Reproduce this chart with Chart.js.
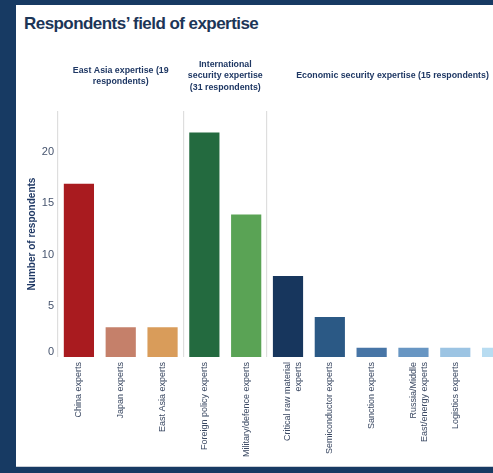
<!DOCTYPE html>
<html>
<head>
<meta charset="utf-8">
<script src="https://cdn.jsdelivr.net/npm/chart.js@4.4.1/dist/chart.umd.min.js"></script>
<style>
  html, body { margin:0; padding:0; width:493px; height:473px; overflow:hidden; background:#173a63; }
  #panel { position:absolute; left:16px; top:5px; width:600px; height:461px; background:#ffffff; border-bottom:1px solid #c9ced6; }
  #title { position:absolute; left:24px; top:14px; font-family:"Liberation Sans", Arial, sans-serif; font-weight:bold; font-size:17px; line-height:20px; letter-spacing:-0.55px; color:#1c3557; white-space:nowrap; }
  #wrap { position:absolute; left:0; top:0; width:540px; height:473px; }
</style>
</head>
<body>
<div id="panel"></div>
<div id="title">Respondents’ field of expertise</div>
<div id="wrap"><canvas id="c" width="540" height="473"></canvas></div>
<script>
const categories = ['China experts', 'Japan experts', 'East Asia experts', 'Foreign policy experts', 'Military/defence experts',
  ['Critical raw material', 'experts'], 'Semiconductor experts', 'Sanction experts', ['Russia/Middle', 'East/energy experts'],
  'Logistics experts', 'Economic experts'];
const respondents = [17, 3, 3, 22, 14, 8, 4, 1, 1, 1, 1];
const barColors = ['#a91b1f', '#c5806a', '#d99c5a', '#236a3f', '#5aa355', '#17365d', '#2b5985', '#4775a6', '#6896c3', '#9cc4e3', '#b8dcf1'];
const yTicks = [0, 5, 10, 15, 20];
const sectionTitles = [['East Asia expertise (19', 'respondents)'], ['International', 'security expertise', '(31 respondents)'], ['Economic security expertise (15 respondents)']];
const sectionStarts = [0, 3, 5];
const sectionEnds = [2, 4, 10];

const navy = '#1f3864';
const tickGray = '#46546e';
const FONT = '"Liberation Sans", Arial, sans-serif';

const overlay = {
  id: 'overlay',
  afterDraw(chart) {
    const ctx = chart.ctx;
    const x = chart.scales.x, y = chart.scales.y;
    ctx.save();
    ctx.fillStyle = navy;
    ctx.font = 'bold 8.8px ' + FONT;
    ctx.textAlign = 'center';
    ctx.textBaseline = 'middle';
    const lh = 11.8, cy = 76;
    sectionTitles.forEach((lines, i) => {
      const cx = (x.getPixelForValue(sectionStarts[i]) + x.getPixelForValue(sectionEnds[i])) / 2;
      const y0 = cy - (lines.length - 1) * lh / 2;
      lines.forEach((t, j) => ctx.fillText(t, cx, y0 + j * lh));
    });
    ctx.fillStyle = tickGray;
    ctx.font = '11px ' + FONT;
    ctx.textAlign = 'right';
    ctx.fillText('0', chart.chartArea.left - 4, y.getPixelForValue(0) - 5);
    ctx.restore();
  }
};

new Chart(document.getElementById('c'), {
  type: 'bar',
  data: {
    labels: categories,
    datasets: [{
      data: respondents,
      backgroundColor: barColors,
      borderColor: 'rgba(255,255,255,0.35)',
      borderWidth: 1,
      barPercentage: 0.77,
      categoryPercentage: 1
    }]
  },
  options: {
    responsive: false,
    animation: false,
    devicePixelRatio: 1,
    layout: { padding: { top: 111, left: 0, right: 22, bottom: 0 } },
    plugins: { legend: { display: false }, tooltip: { enabled: false }, title: { display: false } },
    scales: {
      x: {
        offset: true,
        afterFit(s) { s.height = 116; },
        border: { display: false },
        grid: {
          drawTicks: false,
          offset: true,
          lineWidth: 1.2,
          color: (c) => sectionStarts.includes(c.index) ? '#dedede' : 'rgba(0,0,0,0)'
        },
        ticks: {
          autoSkip: false, minRotation: 90, maxRotation: 90, padding: 5,
          color: '#3a4862', font: { family: FONT, size: 9 }
        }
      },
      y: {
        min: 0, max: 24,
        afterFit(s) { s.width = 58; },
        afterBuildTicks(s) { s.ticks = yTicks.map(v => ({ value: v })); },
        border: { display: false },
        grid: { display: false, drawTicks: false },
        ticks: {
          padding: 4,
          color: (c) => c.tick && c.tick.value === 0 ? 'rgba(0,0,0,0)' : tickGray,
          font: { family: FONT, size: 11 }
        },
        title: {
          display: true, text: 'Number of respondents', color: navy,
          font: { family: FONT, size: 10, weight: 'bold' },
          padding: { top: 26, bottom: 0 }
        }
      }
    }
  },
  plugins: [overlay]
});
</script>
</body>
</html>
